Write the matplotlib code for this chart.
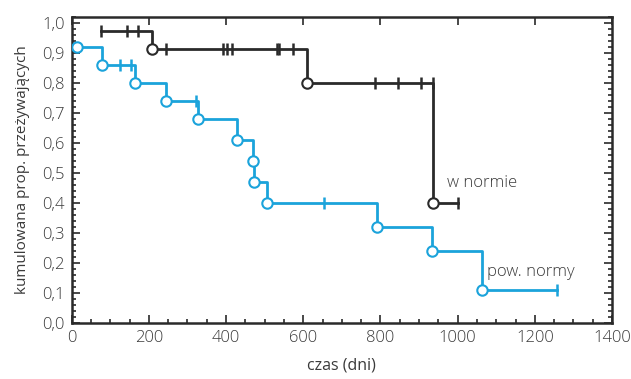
import numpy as np
import matplotlib
matplotlib.use("Agg")
import matplotlib.pyplot as plt
from matplotlib.ticker import MultipleLocator, FuncFormatter

plt.rcParams['font.family'] = ['Open Sans', 'DejaVu Sans']
plt.rcParams['font.weight'] = 'light'

# ---- data ----
blue_start_time = 0
blue_start_surv = 0.92
blue_event_times = [13, 79, 165, 244, 326, 428, 469, 473, 507, 791, 933, 1062]
blue_event_surv = [0.92, 0.86, 0.80, 0.74, 0.68, 0.61, 0.54, 0.47, 0.40, 0.32, 0.24, 0.11]
blue_censor_times = [126, 154, 322, 653, 1258]
blue_end_time = 1258

black_start_time = 77
black_start_surv = 0.975
black_event_times = [208, 610, 937]
black_event_surv = [0.915, 0.80, 0.40]
black_censor_times = [77, 144, 171, 245, 393, 402, 415, 532, 538, 574, 787, 845, 905, 935, 1000]
black_end_time = 1000

label_black = "w normie"
label_blue = "pow. normy"
xlabel = "czas (dni)"
ylabel = "kumulowana prop. przeżywających"

BLUE = "#1BA3DB"
BLACK = "#2a2a2a"
TXT = "#3a3a3a"

fig = plt.figure(figsize=(6.31, 3.79), dpi=100)
ax = fig.add_axes([0.1136, 0.1478, 0.970 - 0.1136, 0.955 - 0.1478])


def draw(start_t, start_s, ev_t, ev_s, cens_t, end_t, color):
    xs = [start_t] + list(ev_t) + [end_t]
    ys = [start_s] + list(ev_s) + [ev_s[-1]]
    ax.step(xs, ys, where='post', color=color, lw=2.0, zorder=2)
    all_t = np.array([start_t] + list(ev_t))
    all_s = np.array([start_s] + list(ev_s))
    idx = np.searchsorted(all_t, cens_t, side='right') - 1
    ax.plot(cens_t, all_s[idx], linestyle='none', marker='|', color=color,
            markersize=8, mew=1.8, zorder=3)
    ax.plot(ev_t, ev_s, linestyle='none', marker='o', mfc='white', mec=color,
            markersize=7.5, mew=1.5, zorder=4)


draw(black_start_time, black_start_surv, black_event_times, black_event_surv,
     black_censor_times, black_end_time, BLACK)
draw(blue_start_time, blue_start_surv, blue_event_times, blue_event_surv,
     blue_censor_times, blue_end_time, BLUE)

ax.text(973, 0.466, label_black, fontsize=12, color=TXT, va='center', ha='left')
ax.text(1076, 0.169, label_blue, fontsize=12, color=TXT, va='center', ha='left')

ax.set_xlim(0, 1400)
ax.set_ylim(0, 1.02)
ax.xaxis.set_major_locator(MultipleLocator(200))
ax.xaxis.set_minor_locator(MultipleLocator(50))
ax.yaxis.set_major_locator(MultipleLocator(0.1))
ax.yaxis.set_minor_locator(MultipleLocator(0.02))
ax.yaxis.set_major_formatter(FuncFormatter(lambda v, p: f"{v:.1f}".replace('.', ',')))

ax.tick_params(which='both', direction='in', top=True, right=True, colors=BLACK,
               labelcolor=TXT, labelsize=12, width=1.2)
ax.tick_params(which='major', length=6, pad=5)
ax.tick_params(which='minor', length=3)
ax.tick_params(axis='x', which='minor', top=False)
for s in ax.spines.values():
    s.set_linewidth(1.8)
    s.set_color(BLACK)

ax.set_xlabel(xlabel, fontsize=11.5, color=TXT, labelpad=8)
ax.set_ylabel(ylabel, fontsize=11, color=TXT, labelpad=9)

fig.savefig("out.png", dpi=100)
